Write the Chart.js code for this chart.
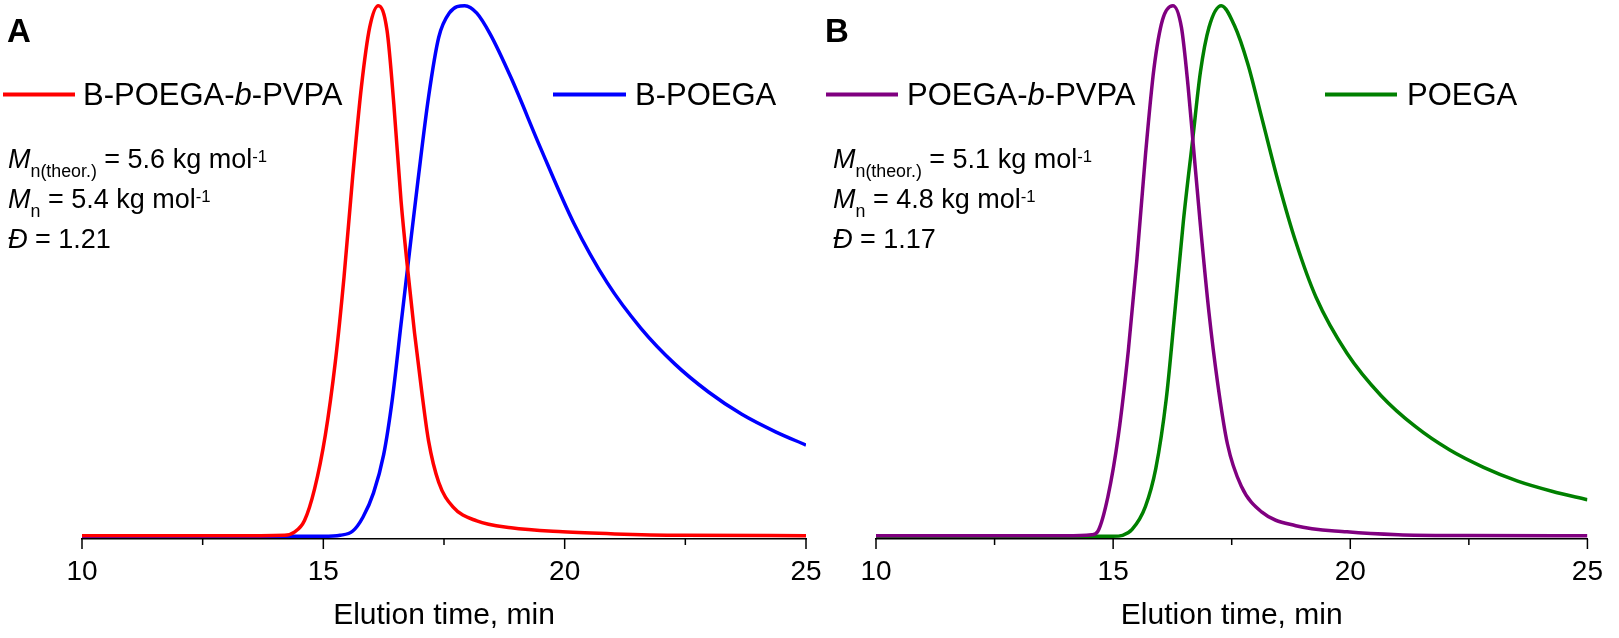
<!DOCTYPE html>
<html>
<head>
<meta charset="utf-8">
<script src="https://cdn.jsdelivr.net/npm/chart.js@4.4.1/dist/chart.umd.min.js"></script>
<style>
  html, body { margin: 0; padding: 0; background: #fff; }
  #wrap { position: relative; width: 1619px; height: 638px; overflow: hidden; }
  .box { position: absolute; top: 0; height: 638px; }
  #boxA { left: 0; width: 840px; }
  #boxB { left: 800px; width: 819px; }
</style>
</head>
<body>
<div id="wrap">
  <div class="box" id="boxA"><canvas id="chartA"></canvas></div>
  <div class="box" id="boxB"><canvas id="chartB"></canvas></div>
</div>
<script>
const FONT = "'Liberation Sans', Arial, sans-serif";

// x axis (elution time, min)
const xMin = 10, xMax = 25, xStep = 2.5;
const tickLabels = [10, 15, 20, 25];

// panel A: B-POEGA-b-PVPA (red)
const timeRed = [10, 13, 14.2, 14.4, 14.61, 14.82, 15.04, 15.25, 15.43, 15.61, 15.79, 15.96, 16.14,
  16.32, 16.46, 16.61, 16.75, 16.89, 17.04, 17.18, 17.39, 17.68, 18.18, 18.89, 19.96, 21.04, 22.46, 25];
const valRed = [0.001, 0.001, 0.002, 0.008, 0.03, 0.09, 0.19, 0.33, 0.49, 0.68, 0.848, 0.959, 1.0,
  0.953, 0.815, 0.632, 0.501, 0.383, 0.272, 0.18, 0.102, 0.056, 0.029, 0.016, 0.0085, 0.0046, 0.002, 0.0013];

// panel A: B-POEGA (blue)
const timeBlue = [10, 15.0, 15.35, 15.61, 15.82, 16.04, 16.25, 16.43, 16.61, 16.79, 16.96, 17.18, 17.39,
  17.61, 17.93, 18.18, 18.46, 18.89, 19.49, 20.19, 20.88, 21.58, 22.28, 22.98, 23.67, 24.37, 25];
const valBlue = [0, 0, 0.002, 0.01, 0.036, 0.082, 0.154, 0.259, 0.40, 0.54, 0.67, 0.828, 0.94,
  0.986, 1.0, 0.986, 0.946, 0.864, 0.734, 0.59, 0.478, 0.392, 0.325, 0.272, 0.23, 0.197, 0.172];

// panel B: POEGA-b-PVPA (purple)
const timePurple = [10, 14.0, 14.55, 14.68, 14.89, 15.11, 15.32, 15.5, 15.68, 15.86, 16.04, 16.26, 16.44,
  16.58, 16.69, 16.84, 17.02, 17.2, 17.41, 17.7, 18.13, 18.85, 19.93, 21.01, 22.5, 25];
const valPurple = [0.001, 0.001, 0.003, 0.01, 0.075, 0.19, 0.35, 0.521, 0.717, 0.881, 0.973, 1.0, 0.959,
  0.848, 0.737, 0.586, 0.422, 0.291, 0.174, 0.095, 0.046, 0.02, 0.0085, 0.003, 0.0015, 0.001];

// panel B: POEGA (green)
const timeGreen = [10, 15.0, 15.2, 15.4, 15.68, 15.9, 16.12, 16.3, 16.48, 16.68, 16.84, 17.02, 17.28,
  17.56, 17.84, 18.13, 18.49, 18.85, 19.28, 19.93, 20.65, 21.37, 22.09, 22.81, 23.53, 24.25, 25];
const valGreen = [0, 0, 0.002, 0.013, 0.056, 0.128, 0.259, 0.422, 0.593, 0.75, 0.875, 0.959, 1.0,
  0.962, 0.89, 0.79, 0.665, 0.555, 0.45, 0.345, 0.265, 0.207, 0.163, 0.13, 0.104, 0.085, 0.069];

function points(ts, vs) {
  return ts.map((t, i) => ({ x: t, y: vs[i] }));
}

function series(label, ts, vs, color) {
  return {
    label: label,
    data: points(ts, vs),
    borderColor: color,
    borderWidth: 3.5,
    pointRadius: 0,
    fill: false,
    cubicInterpolationMode: "monotone",
  };
}

// draws a line of text made of pieces (italic / sub / sup)
function richText(ctx, x, y, parts, size) {
  let cx = x;
  parts.forEach((p) => {
    let fs = size, dy = 0, style = p.i ? "italic " : "";
    if (p.sub) { fs = size * 0.66; dy = 9; }
    if (p.sup) { fs = size * 0.62; dy = -6; }
    ctx.font = style + fs + "px " + FONT;
    ctx.fillText(p.t, cx, y + dy);
    cx += ctx.measureText(p.t).width;
  });
}

const panelText = {
  id: "panelText",
  afterDraw(chart, args, opts) {
    const ctx = chart.ctx;
    ctx.save();
    ctx.fillStyle = "#000";
    ctx.textBaseline = "alphabetic";
    ctx.textAlign = "left";

    ctx.font = "bold 33px " + FONT;
    ctx.fillText(opts.letter, opts.letterX, 42);

    opts.legend.forEach((item) => {
      const ds = chart.data.datasets[item.index];
      ctx.strokeStyle = ds.borderColor;
      ctx.lineWidth = 4;
      ctx.beginPath();
      ctx.moveTo(item.x1, 94.5);
      ctx.lineTo(item.x2, 94.5);
      ctx.stroke();
      richText(ctx, item.tx, 105, item.parts, 31);
    });

    opts.notes.forEach((line, i) => {
      richText(ctx, opts.noteX, 168 + i * 40, line, 27);
    });

    // tick marks: long at labelled ticks, short between
    const sc = chart.scales.x;
    ctx.strokeStyle = "#000";
    ctx.lineWidth = 1.5;
    sc.ticks.forEach((tk) => {
      const px = sc.getPixelForValue(tk.value);
      const len = tickLabels.includes(tk.value) ? 10 : 6;
      ctx.beginPath();
      ctx.moveTo(px, sc.top);
      ctx.lineTo(px, sc.top + len);
      ctx.stroke();
    });
    ctx.restore();
  },
};

function makeOptions(padLeft, padRight, text) {
  return {
    responsive: true,
    maintainAspectRatio: false,
    animation: false,
    layout: { padding: { left: padLeft, right: padRight, top: 3, bottom: 0 } },
    scales: {
      x: {
        type: "linear",
        min: xMin,
        max: xMax,
        afterFit(scale) { scale.height = 99; },
        ticks: {
          stepSize: xStep,
          autoSkip: false,
          maxRotation: 0,
          padding: 16,
          color: "#000",
          font: { family: FONT, size: 28 },
          callback: (v) => (tickLabels.includes(v) ? String(v) : ""),
        },
        grid: { display: false, drawTicks: false },
        border: { display: true, color: "#000", width: 1.5 },
        title: {
          display: true,
          text: "Elution time, min",
          color: "#000",
          font: { family: FONT, size: 30 },
          padding: { top: 0, bottom: 4 },
        },
      },
      y: { display: false, min: -0.005, max: 1.005 },
    },
    plugins: {
      legend: { display: false },
      tooltip: { enabled: false },
      panelText: text,
    },
  };
}

new Chart(document.getElementById("chartA"), {
  type: "line",
  data: {
    datasets: [
      series("B-POEGA-b-PVPA", timeRed, valRed, "#ff0000"),
      series("B-POEGA", timeBlue, valBlue, "#0000ff"),
    ],
  },
  options: makeOptions(82, 34, {
    letter: "A",
    letterX: 7,
    noteX: 8,
    legend: [
      { index: 0, x1: 3, x2: 75, tx: 83, parts: [{ t: "B-POEGA-" }, { t: "b", i: true }, { t: "-PVPA" }] },
      { index: 1, x1: 553, x2: 626, tx: 635, parts: [{ t: "B-POEGA" }] },
    ],
    notes: [
      [{ t: "M", i: true }, { t: "n(theor.)", sub: true }, { t: " = 5.6 kg mol" }, { t: "-1", sup: true }],
      [{ t: "M", i: true }, { t: "n", sub: true }, { t: " = 5.4 kg mol" }, { t: "-1", sup: true }],
      [{ t: "Đ", i: true }, { t: " = 1.21" }],
    ],
  }),
  plugins: [panelText],
});

new Chart(document.getElementById("chartB"), {
  type: "line",
  data: {
    datasets: [
      series("POEGA-b-PVPA", timePurple, valPurple, "#800080"),
      series("POEGA", timeGreen, valGreen, "#008000"),
    ],
  },
  options: makeOptions(76, 20, {
    letter: "B",
    letterX: 25,
    noteX: 33,
    legend: [
      { index: 0, x1: 26, x2: 98, tx: 107, parts: [{ t: "POEGA-" }, { t: "b", i: true }, { t: "-PVPA" }] },
      { index: 1, x1: 525, x2: 597, tx: 607, parts: [{ t: "POEGA" }] },
    ],
    notes: [
      [{ t: "M", i: true }, { t: "n(theor.)", sub: true }, { t: " = 5.1 kg mol" }, { t: "-1", sup: true }],
      [{ t: "M", i: true }, { t: "n", sub: true }, { t: " = 4.8 kg mol" }, { t: "-1", sup: true }],
      [{ t: "Đ", i: true }, { t: " = 1.17" }],
    ],
  }),
  plugins: [panelText],
});
</script>
</body>
</html>
